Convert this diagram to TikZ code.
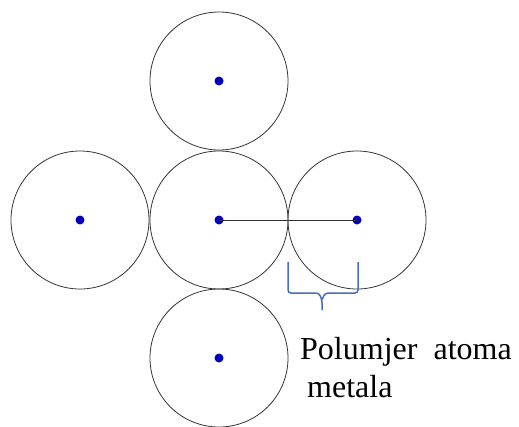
\documentclass[tikz,border=0pt]{standalone}
\usepackage{fontspec}
\IfFontExistsTF{LiberationSerif-Regular.ttf}{\setmainfont{LiberationSerif-Regular.ttf}}{\setmainfont{Liberation Serif}}
\definecolor{dotblue}{RGB}{0,0,190}
\definecolor{bracecol}{RGB}{70,110,190}
\begin{document}
\begin{tikzpicture}[x=1pt,y=-1pt,
  atom/.style={circle,draw=black!80,line width=0.8pt,minimum size=138pt,inner sep=0pt},
  dot/.style={circle,fill=dotblue,minimum size=9pt,inner sep=0pt},
  lbl/.style={font=\fontsize{32}{38}\selectfont,inner sep=0pt,anchor=base west}]
\useasboundingbox (0,0) rectangle (519,426);
\node[atom] (ctop) at (219,81) {};
\node[atom] (cleft) at (80,220) {};
\node[atom] (cmid) at (219,220) {};
\node[atom] (cright) at (357,220) {};
\node[atom] (cbot) at (219,358) {};
\foreach \n in {ctop,cleft,cmid,cright,cbot}{\node[dot] (d\n) at (\n.center) {};}
\draw[black!80,line width=0.8pt] (cmid.center) -- (cright.center);
\coordinate (b1) at (288,262);
\coordinate (b2) at (358,262);
\coordinate (btip) at (322,310);
\draw[bracecol,line width=1.5pt,rounded corners=3pt]
  (b1) -- (288,293) -- (319,293) -- (322,300) -- (btip);
\draw[bracecol,line width=1.5pt,rounded corners=3pt]
  (b2) -- (358,293) -- (325,293) -- (322,300);
\node[lbl] (t1) at (300,359) {Polumjer\ \ atoma};
\node[lbl] (t2) at (307,397) {metala};
\end{tikzpicture}
\end{document}
